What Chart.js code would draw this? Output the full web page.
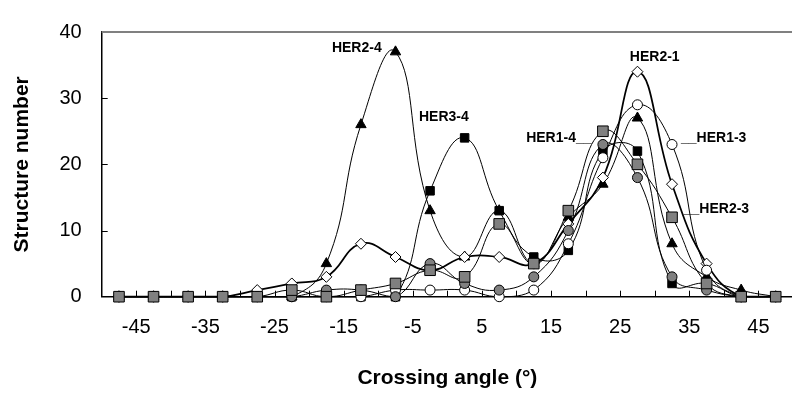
<!DOCTYPE html>
<html>
<head>
<meta charset="utf-8">
<script src="https://cdn.jsdelivr.net/npm/chart.js@4.4.0/dist/chart.umd.min.js"></script>
<style>
  html, body { margin: 0; padding: 0; background: #fff; overflow: hidden; }
  #wrap { width: 812px; height: 394px; }
</style>
</head>
<body>
<div id="wrap"><canvas id="chart" width="812" height="394"></canvas></div>
<script>
// crossing angle bins (degrees)
const angles = [-47.5, -42.5, -37.5, -32.5, -27.5, -22.5, -17.5, -12.5, -7.5, -2.5,
                2.5, 7.5, 12.5, 17.5, 22.5, 27.5, 32.5, 37.5, 42.5, 47.5];

// structure counts per bin
const her2_4 = [0, 0, 0, 0, 0, 0, 5, 26, 37, 13, 6, 13, 5, 12, 17, 27, 8, 3, 1, 0];
const her3_4 = [0, 0, 0, 0, 0, 0, 0, 0, 0, 16, 24, 13, 6, 7, 22, 22, 2, 2, 0, 0];
const her2_1 = [0, 0, 0, 0, 1, 2, 3, 8, 6, 4, 6, 6, 5, 11, 18, 34, 17, 5, 0, 0];
const her1_3 = [0, 0, 0, 0, 0, 0, 0, 0, 1, 1, 1, 0, 1, 8, 21, 29, 23, 4, 0, 0];
const her1_4 = [0, 0, 0, 0, 0, 0, 1, 1, 0, 5, 2, 1, 3, 10, 23, 18, 3, 1, 0, 0];
const her2_3 = [0, 0, 0, 0, 0, 1, 0, 1, 2, 4, 3, 11, 5, 13, 25, 20, 12, 2, 0, 0];

const xTickLabels = ['-45', '-35', '-25', '-15', '-5', '5', '15', '25', '35', '45'];

// text labels placed in data units
const noteText = ['HER2-4', 'HER3-4', 'HER1-4__', 'HER2-1', '__HER1-3', '__HER2-3'];
const noteX = [-16.7, -4.1, 11.4, 26.4, 33.8, 34.2];
const noteY = [37.5, 27.2, 24.0, 36.2, 24.0, 13.2];

const FONT = "'Liberation Sans', Arial, sans-serif";

function series(label, values, style) {
    return Object.assign({
        label: label,
        data: angles.map((a, i) => ({ x: a, y: values[i] })),
        borderColor: '#000',
        borderWidth: 1,
        pointBorderColor: '#000',
        pointBorderWidth: 1,
        tension: 0.45,
        fill: false,
        clip: false
    }, style);
}

// first dataset ends up on top
const datasets = [
    series('HER2-3', her2_3, { pointStyle: 'rect', pointRadius: 7.5, pointBackgroundColor: '#808080' }),
    series('HER1-4', her1_4, { pointStyle: 'circle', pointRadius: 5, pointBackgroundColor: '#808080' }),
    series('HER1-3', her1_3, { pointStyle: 'circle', pointRadius: 5, pointBackgroundColor: '#fff' }),
    series('HER2-1', her2_1, { pointStyle: 'rectRot', pointRadius: 5.5, pointBackgroundColor: '#fff', borderWidth: 1.75 }),
    series('HER3-4', her3_4, { pointStyle: 'rect', pointRadius: 6, pointBackgroundColor: '#000' }),
    series('HER2-4', her2_4, { pointStyle: 'triangle', pointRadius: 6, pointBackgroundColor: '#000' })
];

// grey frame on top/right and small inward tick marks
const frame = {
    id: 'frame',
    beforeDatasetsDraw(chart) {
        const { ctx, chartArea: a, scales: { x, y } } = chart;
        ctx.save();
        ctx.strokeStyle = '#808080';
        ctx.lineWidth = 2;
        ctx.beginPath();
        ctx.moveTo(a.left, a.top);
        ctx.lineTo(a.right, a.top);
        ctx.lineTo(a.right, a.bottom);
        ctx.stroke();

        ctx.strokeStyle = '#000';
        ctx.lineWidth = 1;
        ctx.beginPath();
        x.ticks.forEach(t => {
            if (t.value <= x.min || t.value >= x.max) return;
            const px = Math.round(x.getPixelForValue(t.value)) + 0.5;
            ctx.moveTo(px, a.bottom);
            ctx.lineTo(px, a.bottom - 6);
        });
        y.ticks.forEach(t => {
            if (t.value <= y.min || t.value >= y.max) return;
            const py = Math.round(y.getPixelForValue(t.value)) + 0.5;
            ctx.moveTo(a.left, py);
            ctx.lineTo(a.left + 6, py);
        });
        ctx.stroke();
        ctx.restore();
    }
};

const notes = {
    id: 'notes',
    afterDraw(chart) {
        const { ctx, scales: { x, y } } = chart;
        ctx.save();
        ctx.fillStyle = '#000';
        ctx.font = 'bold 14px ' + FONT;
        ctx.textAlign = 'left';
        ctx.textBaseline = 'middle';
        noteText.forEach((t, i) => {
            ctx.fillText(t, x.getPixelForValue(noteX[i]), y.getPixelForValue(noteY[i]));
        });
        ctx.restore();
    }
};

new Chart(document.getElementById('chart'), {
    type: 'line',
    data: { datasets: datasets },
    options: {
        responsive: false,
        animation: false,
        devicePixelRatio: 1,
        layout: { padding: { top: 15.3, right: 10.3, left: 0, bottom: 0 } },
        plugins: { legend: { display: false }, tooltip: { enabled: false } },
        scales: {
            x: {
                type: 'linear',
                min: -50,
                max: 50,
                grid: { display: true, drawOnChartArea: false, drawTicks: false },
                border: { display: true, color: '#000', width: 1.5 },
                ticks: {
                    stepSize: 5,
                    autoSkip: false,
                    maxRotation: 0,
                    padding: 19,
                    color: '#000',
                    font: { family: FONT, size: 20 },
                    callback: v => xTickLabels.includes(String(v)) ? String(v) : ''
                },
                title: {
                    display: true,
                    text: 'Crossing angle (°)',
                    color: '#000',
                    font: { family: FONT, size: 21, weight: 'bold' },
                    padding: { top: 0, bottom: 3 }
                },
                afterFit: s => { s.height = 394 - 296.7; }
            },
            y: {
                min: 0,
                max: 40,
                grid: { display: true, drawOnChartArea: false, drawTicks: false },
                border: { display: true, color: '#000', width: 1.5 },
                ticks: {
                    stepSize: 10,
                    padding: 20,
                    color: '#000',
                    font: { family: FONT, size: 20 }
                },
                title: {
                    display: true,
                    text: 'Structure number',
                    color: '#000',
                    font: { family: FONT, size: 21, weight: 'bold' },
                    padding: { top: 10, bottom: 0 }
                },
                afterFit: s => { s.width = 101.7; }
            }
        }
    },
    plugins: [frame, notes]
});
</script>
</body>
</html>
